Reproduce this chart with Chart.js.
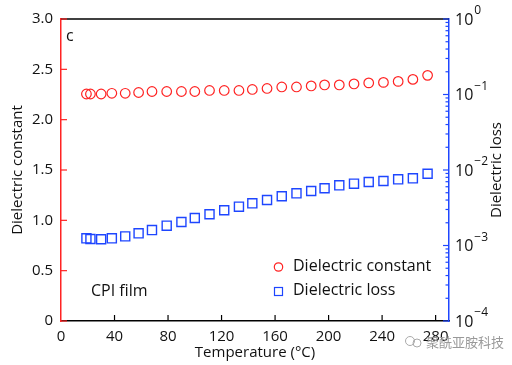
<!DOCTYPE html>
<html>
<head>
<meta charset="utf-8">
<script src="https://cdn.jsdelivr.net/npm/chart.js@4.4.0/dist/chart.umd.min.js"></script>
<style>
  html, body { margin: 0; padding: 0; background: #fff; }
</style>
</head>
<body>
<canvas id="chart" width="512" height="365"></canvas>
<script>
// values
var temps = [19, 22, 30, 38, 48, 58, 68, 79, 90, 100, 111, 122, 133, 143, 154, 165, 176, 187, 197, 208, 219, 230, 241, 252, 263, 274];
var constant = [2.255, 2.255, 2.255, 2.262, 2.262, 2.27, 2.28, 2.28, 2.28, 2.28, 2.29, 2.29, 2.29, 2.30, 2.31, 2.325, 2.325, 2.335, 2.345, 2.345, 2.355, 2.365, 2.37, 2.38, 2.40, 2.44];
var loss = [1.245e-3, 1.22e-3, 1.21e-3, 1.245e-3, 1.32e-3, 1.45e-3, 1.60e-3, 1.83e-3, 2.05e-3, 2.31e-3, 2.59e-3, 2.93e-3, 3.27e-3, 3.62e-3, 4.01e-3, 4.49e-3, 4.91e-3, 5.27e-3, 5.73e-3, 6.27e-3, 6.59e-3, 6.94e-3, 7.15e-3, 7.53e-3, 7.76e-3, 8.93e-3];
var lossDecades = [0, -1, -2, -3, -4];
var xTitle = 'Temperature (°C)';
var yTitle = 'Dielectric constant';
var y1Title = 'Dielectric loss';

var FONT = "'Open Sans', sans-serif";
var RED = 'rgb(255,35,35)';
var BLUE = 'rgb(30,70,255)';
var INK = '#111';

function pts(xs, ys) {
    return xs.map(function (v, i) { return { x: v, y: ys[i] }; });
}

function seg(ctx, x1, y1, x2, y2) {
    ctx.beginPath(); ctx.moveTo(x1, y1); ctx.lineTo(x2, y2); ctx.stroke();
}

// frame top, inward ticks, log labels, legend and notes
var decor = {
    id: 'decor',
    afterDraw: function (chart) {
        var ctx = chart.ctx, a = chart.chartArea;
        var sx = chart.scales.x, sy = chart.scales.y, sy1 = chart.scales.y1;
        ctx.save();

        ctx.strokeStyle = '#000'; ctx.lineWidth = 1.5;
        seg(ctx, a.left, a.top, a.right, a.top);

        ctx.lineWidth = 1.2;
        sx.ticks.forEach(function (t) {
            if (t.value === 0) return;
            var px = sx.getPixelForValue(t.value);
            seg(ctx, px, a.bottom, px, a.bottom - 6);
        });
        ctx.strokeStyle = RED;
        sy.ticks.forEach(function (t) {
            var py = sy.getPixelForValue(t.value);
            seg(ctx, a.left, py, a.left + 6, py);
        });

        ctx.strokeStyle = BLUE;
        lossDecades.forEach(function (n) {
            var py = sy1.getPixelForValue(Math.pow(10, n));
            seg(ctx, a.right, py, a.right - 6, py);
            if (n > -4) {
                for (var k = 2; k <= 9; k++) {
                    var pm = sy1.getPixelForValue(k * Math.pow(10, n - 1));
                    seg(ctx, a.right, pm, a.right - 3.5, pm);
                }
            }
            ctx.fillStyle = INK;
            ctx.textBaseline = 'middle'; ctx.textAlign = 'left';
            ctx.font = '16px ' + FONT;
            ctx.fillText('10', a.right + 6, py + 1);
            var w = ctx.measureText('10').width;
            ctx.font = '12px ' + FONT;
            ctx.fillText(n === 0 ? '0' : '\u2212' + (-n), a.right + 7 + w, py - 8);
        });

        // right axis title, reading bottom to top
        ctx.save();
        ctx.translate(497, (a.top + a.bottom) / 2);
        ctx.rotate(-Math.PI / 2);
        ctx.font = '15px ' + FONT; ctx.textAlign = 'center'; ctx.textBaseline = 'middle';
        ctx.fillStyle = INK;
        ctx.fillText(y1Title, 0, 0);
        ctx.restore();

        // legend
        var ds = chart.data.datasets;
        ctx.lineWidth = 1.2;
        ctx.strokeStyle = ds[0].borderColor;
        ctx.beginPath(); ctx.arc(278.5, 267, 4.2, 0, Math.PI * 2); ctx.stroke();
        ctx.strokeStyle = ds[1].borderColor;
        ctx.strokeRect(274.5, 287.5, 8, 8);
        ctx.fillStyle = INK; ctx.font = '16px ' + FONT;
        ctx.textAlign = 'left'; ctx.textBaseline = 'middle';
        ctx.fillText(ds[0].label, 293, 266.5);
        ctx.fillText(ds[1].label, 293, 290.5);

        ctx.font = '16px ' + FONT;
        ctx.fillText('c', 66, 36);
        ctx.fillText('CPI film', 91, 291);

        // watermark
        ctx.strokeStyle = '#aaa'; ctx.lineWidth = 1;
        ctx.beginPath(); ctx.arc(410, 341, 4.5, 0, Math.PI * 2); ctx.stroke();
        ctx.beginPath(); ctx.arc(417, 343, 4, 0, Math.PI * 2); ctx.stroke();
        ctx.fillStyle = '#999';
        ctx.font = "13px 'Noto Sans CJK SC'";
        ctx.fillText('聚酰亚胺科技', 426, 342);
        ctx.restore();
    }
};

Chart.defaults.font.family = FONT;
Chart.defaults.font.size = 15;
Chart.defaults.color = INK;

var chart = new Chart(document.getElementById('chart'), {
    type: 'scatter',
    data: {
        datasets: [
            {
                label: 'Dielectric constant',
                data: pts(temps, constant),
                yAxisID: 'y',
                pointStyle: 'circle',
                pointRadius: 4.8,
                pointBorderWidth: 1.2,
                borderColor: RED,
                backgroundColor: 'rgba(0,0,0,0)'
            },
            {
                label: 'Dielectric loss',
                data: pts(temps, loss),
                yAxisID: 'y1',
                pointStyle: 'rect',
                pointRadius: 6.4,
                pointBorderWidth: 1.4,
                borderColor: BLUE,
                backgroundColor: 'rgba(0,0,0,0)'
            }
        ]
    },
    options: {
        responsive: false,
        animation: false,
        layout: { padding: { top: 19, left: 0, right: 0, bottom: 0 } },
        plugins: { legend: { display: false }, tooltip: { enabled: false } },
        scales: {
            x: {
                type: 'linear',
                min: 0, max: 290,
                grid: { drawOnChartArea: false, drawTicks: false },
                border: { color: '#000', width: 1.5 },
                ticks: { stepSize: 40, includeBounds: false, padding: 7, maxRotation: 0 },
                title: { display: true, text: xTitle, padding: { top: 0, bottom: 3 } },
                afterFit: function (s) { s.height = 44; }
            },
            y: {
                position: 'left',
                min: 0, max: 3,
                grid: { drawOnChartArea: false, drawTicks: false },
                border: { color: RED, width: 1.5 },
                ticks: {
                    stepSize: 0.5, padding: 8,
                    callback: function (v) { return v === 0 ? '0' : v.toFixed(1); }
                },
                title: { display: true, text: yTitle, padding: { top: 9, bottom: 0 } },
                afterFit: function (s) { s.width = 61; }
            },
            y1: {
                type: 'logarithmic',
                position: 'right',
                min: 1e-4, max: 1,
                grid: { drawOnChartArea: false, drawTicks: false },
                border: { color: BLUE, width: 1.5 },
                ticks: { display: false },
                afterFit: function (s) { s.width = 63; }
            }
        }
    },
    plugins: [decor]
});
</script>
</body>
</html>
